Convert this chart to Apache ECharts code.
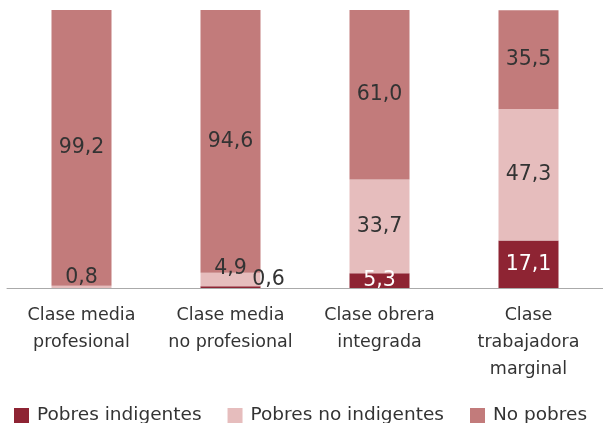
<!DOCTYPE html>
<html>
<head>
<meta charset="utf-8">
<script src="https://cdn.jsdelivr.net/npm/echarts@6/dist/echarts.min.js"></script>
<style>
  html, body { margin: 0; padding: 0; background: #fff; }
  #chart { width: 603px; height: 423px; }
</style>
</head>
<body>
<div id="chart"></div>
<script>
//categories and series values (%)
const categories = ["Clase media\nprofesional", "Clase media\nno profesional", "Clase obrera\nintegrada", "Clase\ntrabajadora\nmarginal"];
const indigentes = [0, 0.6, 5.3, 17.1];
const noIndigentes = [0.8, 4.9, 33.7, 47.3];
const noPobres = [99.2, 94.6, 61.0, 35.5];

const font = "'DejaVu Sans', sans-serif";
const fmt = v => v.toFixed(1).replace(".", ",");

//label tweaks for the thin segments
const labelFix = {
    indigentes: { 0: { show: false }, 1: { offset: [38, -7], color: "#333" } },
    noIndigentes: { 0: { offset: [0, -9] }, 1: { offset: [0, -11] } }
};

function buildData(arr, key) {
    const fix = labelFix[key] || {};
    return arr.map((v, i) => fix[i] ? { value: v, label: fix[i] } : v);
}

const chart = echarts.init(document.getElementById("chart"));
const labelBase = {
    show: true,
    position: "inside",
    fontFamily: font,
    fontSize: 20.5,
    color: "#333",
    formatter: p => fmt(p.value)
};

chart.setOption({
    animation: false,
    grid: { left: 7, top: 10, width: 602, bottom: 135 },
    legend: {
        top: 401,
        left: 9,
        itemWidth: 15,
        itemHeight: 15,
        itemGap: 26,
        icon: "rect",
        textStyle: { fontFamily: font, fontSize: 18.5, color: "#333", padding: [0, 0, 0, 3] },
        data: ["Pobres indigentes", "Pobres no indigentes", "No pobres"]
    },
    xAxis: {
        type: "category",
        data: categories,
        axisLine: { lineStyle: { color: "#aaa", width: 1 } },
        axisTick: { length: 12, lineStyle: { color: "#aaa" } },
        axisLabel: { fontFamily: font, fontSize: 17.5, color: "#333", lineHeight: 27, margin: 14, interval: 0 }
    },
    yAxis: {
        type: "value",
        min: 0,
        max: 100,
        show: false
    },
    series: [
        {
            name: "Pobres indigentes",
            type: "bar",
            stack: "total",
            barWidth: 60,
            itemStyle: { color: "#8e2433" },
            label: Object.assign({}, labelBase, { color: "#fff" }),
            data: buildData(indigentes, "indigentes")
        },
        {
            name: "Pobres no indigentes",
            type: "bar",
            stack: "total",
            itemStyle: { color: "#e6bdbd" },
            label: labelBase,
            data: buildData(noIndigentes, "noIndigentes")
        },
        {
            name: "No pobres",
            type: "bar",
            stack: "total",
            itemStyle: { color: "#c27b7b" },
            label: labelBase,
            data: noPobres
        }
    ]
});
</script>
</body>
</html>
